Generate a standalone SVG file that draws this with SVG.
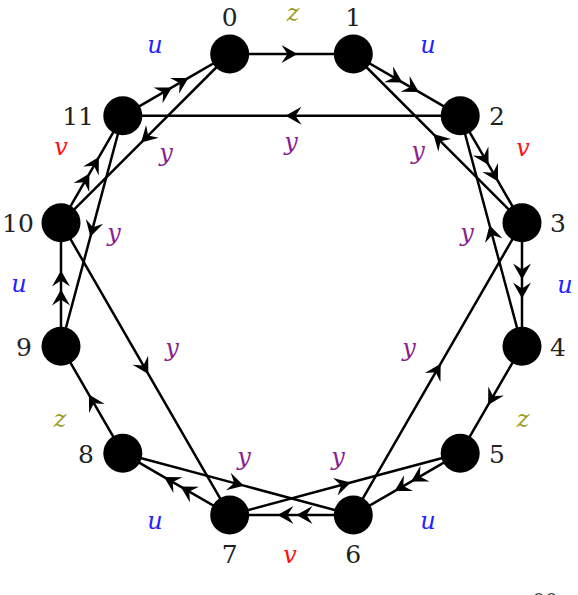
<svg xmlns="http://www.w3.org/2000/svg" width="578" height="595" viewBox="0 0 578 595">
<style>
.e{fill:none;stroke:#000;stroke-width:2.5;marker-mid:url(#ah)}
.n{fill:#000}
.lb{font-family:"DejaVu Serif",serif;font-size:25px;fill:#222}
.m{font-family:"DejaVu Serif",serif;font-style:italic;font-size:24px;text-anchor:middle}
.u{fill:#2222ff}.v{fill:#ff1111}.z{fill:#9c9c1a}.y{fill:#8a1f8f}
</style>
<defs>
<marker id="ah" markerUnits="userSpaceOnUse" viewBox="0 0 16 18" markerWidth="16" markerHeight="18" refX="16" refY="9" orient="auto" overflow="visible">
<path d="M16,9 L0,0 L6,9 L0,18 Z" fill="#000"/>
</marker>
</defs>
<rect width="578" height="595" fill="#fff"/>
<g id="connectors">
<polyline class="e" points="229.7,54 297.5,54 353.3,54"/>
<polyline class="e" points="353.3,54 402.4,82.4 418.9,91.9 460.2,115.8"/>
<polyline class="e" points="460.2,115.8 488.6,164.9 498.1,181.4 522,222.7"/>
<polyline class="e" points="522,222.7 522,279.5 522,298.5 522,346.3"/>
<polyline class="e" points="522,346.3 488.1,404.9 460.2,453.2"/>
<polyline class="e" points="460.2,453.2 411.1,481.6 394.6,491.1 353.3,515"/>
<polyline class="e" points="353.3,515 296.5,515 277.5,515 229.7,515"/>
<polyline class="e" points="229.7,515 180.6,486.6 164.1,477.1 122.8,453.2"/>
<polyline class="e" points="122.8,453.2 88.9,394.6 61,346.3"/>
<polyline class="e" points="61,346.3 61,289.5 61,270.5 61,222.7"/>
<polyline class="e" points="61,222.7 89.4,173.6 98.9,157.1 122.8,115.8"/>
<polyline class="e" points="122.8,115.8 171.9,87.4 188.4,77.9 229.7,54"/>
<polyline class="e" points="460.2,115.8 285.5,115.8 122.8,115.8"/>
<polyline class="e" points="229.7,54 141.1,142.6 61,222.7"/>
<polyline class="e" points="122.8,115.8 90.35,236.85 61,346.3"/>
<polyline class="e" points="61,222.7 148.35,374.05 229.7,515"/>
<polyline class="e" points="122.8,453.2 243.85,485.65 353.3,515"/>
<polyline class="e" points="229.7,515 350.75,482.55 460.2,453.2"/>
<polyline class="e" points="353.3,515 440.65,363.65 522,222.7"/>
<polyline class="e" points="522,346.3 489.55,225.25 460.2,115.8"/>
<polyline class="e" points="522,222.7 433.4,134.1 353.3,54"/>
</g>
<g id="edge-labels">
<text class="m z" x="293" y="21">z</text>
<text class="m u" x="155" y="53">u</text>
<text class="m u" x="428" y="53">u</text>
<text class="m v" x="523" y="156">v</text>
<text class="m v" x="61" y="155">v</text>
<text class="m u" x="19" y="292">u</text>
<text class="m u" x="565" y="293">u</text>
<text class="m z" x="60" y="427">z</text>
<text class="m z" x="523" y="427">z</text>
<text class="m u" x="155" y="529">u</text>
<text class="m u" x="428" y="529">u</text>
<text class="m v" x="290" y="563">v</text>
<text class="m y" x="291" y="150">y</text>
<text class="m y" x="166" y="161">y</text>
<text class="m y" x="418" y="159">y</text>
<text class="m y" x="114" y="241">y</text>
<text class="m y" x="467" y="241">y</text>
<text class="m y" x="172" y="356">y</text>
<text class="m y" x="409" y="356">y</text>
<text class="m y" x="244" y="465">y</text>
<text class="m y" x="338" y="465">y</text>
</g>
<g id="node0"><circle class="n" cx="229.7" cy="54" r="19.5"/><text class="lb" x="229.7" y="26" text-anchor="middle">0</text></g>
<g id="node1"><circle class="n" cx="353.3" cy="54" r="19.5"/><text class="lb" x="353.3" y="26" text-anchor="middle">1</text></g>
<g id="node2"><circle class="n" cx="460.2" cy="115.8" r="19.5"/><text class="lb" x="489" y="125" text-anchor="start">2</text></g>
<g id="node3"><circle class="n" cx="522" cy="222.7" r="19.5"/><text class="lb" x="550" y="232" text-anchor="start">3</text></g>
<g id="node4"><circle class="n" cx="522" cy="346.3" r="19.5"/><text class="lb" x="550" y="355.5" text-anchor="start">4</text></g>
<g id="node5"><circle class="n" cx="460.2" cy="453.2" r="19.5"/><text class="lb" x="489" y="462.5" text-anchor="start">5</text></g>
<g id="node6"><circle class="n" cx="353.3" cy="515" r="19.5"/><text class="lb" x="353.3" y="563" text-anchor="middle">6</text></g>
<g id="node7"><circle class="n" cx="229.7" cy="515" r="19.5"/><text class="lb" x="229.7" y="563" text-anchor="middle">7</text></g>
<g id="node8"><circle class="n" cx="122.8" cy="453.2" r="19.5"/><text class="lb" x="94" y="462.5" text-anchor="end">8</text></g>
<g id="node9"><circle class="n" cx="61" cy="346.3" r="19.5"/><text class="lb" x="32" y="355.5" text-anchor="end">9</text></g>
<g id="node10"><circle class="n" cx="61" cy="222.7" r="19.5"/><text class="lb" x="34" y="232" text-anchor="end" textLength="32">10</text></g>
<g id="node11"><circle class="n" cx="122.8" cy="115.8" r="19.5"/><text class="lb" x="94" y="125" text-anchor="end">11</text></g>
<text class="lb" x="545" y="608" text-anchor="middle" style="font-size:20px;fill:#444">00</text>
</svg>
